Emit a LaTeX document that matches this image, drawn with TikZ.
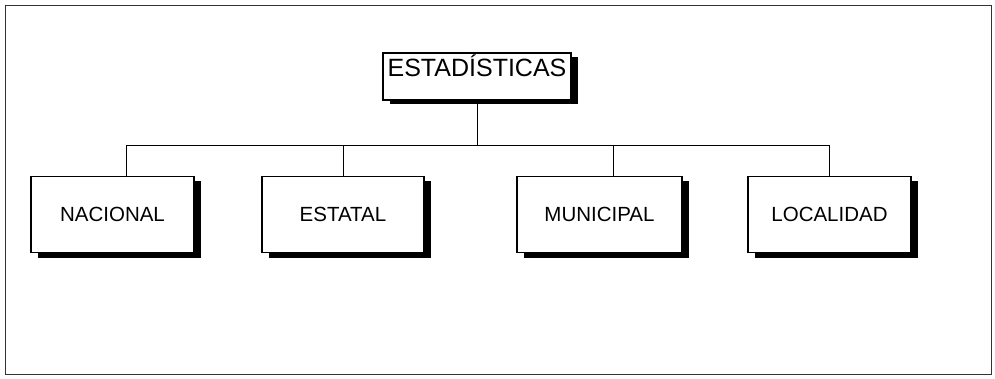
\documentclass[tikz,border=0pt]{standalone}
\usepackage{fontspec}
\setmainfont{Liberation Sans}
\begin{document}
\begin{tikzpicture}[x=1pt,y=-1pt,
  boxstyle/.style={draw=black, line width=1.1pt, fill=white, rectangle, inner sep=0pt,
    minimum height=76pt, font=\fontsize{20.5}{24}\selectfont},
  shadowbox/.style={fill=black, draw=none, rectangle, inner sep=0pt},
  conn/.style={draw=black, line width=0.9pt}]
\useasboundingbox (0,0) rectangle (995,379);
\draw[line width=1pt, draw=black!80] (5,6) rectangle (991,374);
% shadows
\node[shadowbox, minimum width=188pt, minimum height=47pt] (estsh) at (484,80.5) {};
\node[shadowbox, minimum width=163pt, minimum height=76pt] (nacsh) at (119.5,219.5) {};
\node[shadowbox, minimum width=162pt, minimum height=76pt] (etlsh) at (350,219.5) {};
\node[shadowbox, minimum width=165pt, minimum height=76pt] (munsh) at (606.5,219.5) {};
\node[shadowbox, minimum width=163pt, minimum height=76pt] (locsh) at (836.5,219.5) {};
% boxes
\node[boxstyle, minimum width=188pt, minimum height=47pt] (est) at (477,76.5) {};
\node[font=\fontsize{25}{30}\selectfont, inner sep=0pt, anchor=base] (estlabel) at (477,77) {ESTADÍSTICAS};
\node[boxstyle, minimum width=163pt] (nac) at (112.5,214.5) {NACIONAL};
\node[boxstyle, minimum width=162pt] (etl) at (343,214.5) {ESTATAL};
\node[boxstyle, minimum width=165pt] (mun) at (599.5,214.5) {MUNICIPAL};
\node[boxstyle, minimum width=163pt] (loc) at (829.5,214.5) {LOCALIDAD};
% connectors
\coordinate (bus) at (477,145);
\coordinate (nactop) at (126,176.5);
\coordinate (muntop) at (613,176.5);
\draw[conn] (est.south) -- (bus);
\draw[conn] (nactop) -- (nactop |- bus) -- (loc.north |- bus) -- (loc.north);
\draw[conn] (etl.north) -- (etl.north |- bus);
\draw[conn] (muntop) -- (muntop |- bus);
\end{tikzpicture}
\end{document}
